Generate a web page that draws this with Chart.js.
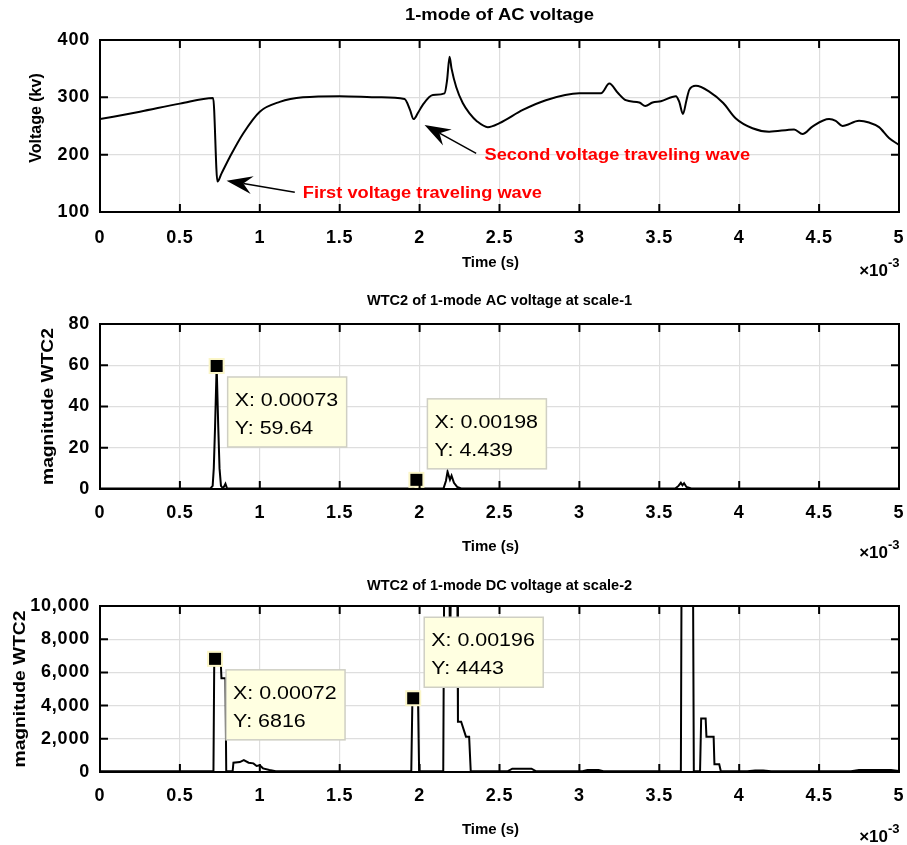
<!DOCTYPE html>
<html>
<head>
<meta charset="utf-8">
<title>Traveling wave detection</title>
<script src="https://cdn.jsdelivr.net/npm/chart.js@4/dist/chart.umd.min.js"></script>
<style>
  html, body { margin: 0; padding: 0; background: #fff; }
  #wrap { position: relative; width: 907px; height: 845px; overflow: hidden; }
  #wrap canvas { position: absolute; left: 0; }
</style>
</head>
<body>
<div id="wrap">
  <canvas id="acChart"    width="907" height="283" style="top:0px"></canvas>
  <canvas id="wtcAcChart" width="907" height="283" style="top:283px"></canvas>
  <canvas id="wtcDcChart" width="907" height="279" style="top:566px"></canvas>
</div>
<script>
/* ── Data (time in ms, axis shows ×10^-3 s) ── */

const acTime = [0, 0.25, 0.5, 0.708, 0.735, 0.76, 0.8125, 0.896, 1.0, 1.125, 1.27, 1.5, 1.75, 1.906, 1.94,
    1.9625, 1.99, 2.02, 2.083, 2.156, 2.172, 2.1875, 2.2, 2.229, 2.27, 2.3125, 2.36, 2.427, 2.5, 2.646,
    2.79, 3.0, 3.135, 3.1875, 3.24, 3.29, 3.375, 3.4125, 3.458, 3.51, 3.604, 3.625, 3.648, 3.67, 3.6875,
    3.729, 3.8125, 3.9, 3.979, 4.083, 4.1875, 4.344, 4.396, 4.458, 4.5625, 4.604, 4.646, 4.75, 4.8125,
    4.875, 4.9375, 5.0];
const acVolt = [262, 275, 289, 299, 153, 167, 196, 237, 275, 292, 300, 302, 300, 297, 278,
    262, 273, 287, 304, 307, 330, 371, 350, 318, 290, 272, 258, 248, 255, 278,
    295, 307, 307, 324, 308, 295, 291, 285, 291, 293, 302, 292, 271, 295, 313,
    320, 310, 290, 263, 246, 240, 244, 236, 249, 262, 259, 250, 259, 256,
    248, 229, 217];

const wtcAcTime = [0, 0.69, 0.705, 0.712, 0.72, 0.73, 0.74, 0.748, 0.757, 0.77, 0.785, 0.795, 0.82,
    1.95, 1.97, 1.98, 1.99, 2.01, 2.15, 2.165, 2.175, 2.19, 2.2, 2.215, 2.235, 2.26,
    3.6, 3.62, 3.635, 3.645, 3.655, 3.67, 3.7, 3.75, 5.0];
const wtcAcMag = [0.2, 0.2, 1.5, 10, 30, 59.64, 30, 10, 1.5, 0.3, 2.5, 0.3, 0.2,
    0.2, 1.5, 4.439, 1.5, 0.2, 0.3, 4, 8.4, 4.5, 6.5, 3, 1, 0.3,
    0.2, 1.5, 3, 1.8, 2.8, 1, 0.3, 0.2, 0.2];

const wtcDcTime = [0, 0.71, 0.715, 0.755, 0.76, 0.785, 0.79, 0.83, 0.835, 0.875, 0.9, 0.93, 0.96, 0.98,
    1.0, 1.02, 1.06, 1.1, 1.2, 1.948, 1.955, 1.99, 1.997, 2.148, 2.155, 2.185, 2.19, 2.2, 2.235, 2.24,
    2.26, 2.29, 2.31, 2.32, 2.55, 2.58, 2.7, 2.73, 3.02, 3.05, 3.12, 3.15, 3.635, 3.64, 3.71, 3.716,
    3.755, 3.762, 3.79, 3.795, 3.84, 3.845, 3.875, 3.885, 4.05, 4.1, 4.15, 4.2, 4.7, 4.75, 4.95, 5.0];
const wtcDcMag = [40, 40, 6816, 6816, 5650, 5650, 40, 40, 560, 600, 720, 560, 520, 360,
    400, 220, 120, 50, 40, 40, 4443, 4443, 40, 40, 14000, 14000, 7000, 14000, 14000, 3030,
    3030, 2130, 2130, 40, 40, 200, 200, 40, 40, 120, 120, 40, 40, 14000, 14000, 40,
    40, 3230, 3230, 2130, 2130, 460, 460, 40, 40, 90, 90, 40, 40, 120, 120, 60];

// data tips (x in ms)
const tipAcX = [0.73, 1.98];
const tipAcY = [59.64, 4.439];
const tipDcX = [0.72, 1.96];
const tipDcY = [6816, 4443];

// arrows / labels on the AC voltage plot, in data units
const arrowTipX  = [0.792, 2.031];
const arrowTipY  = [154.6, 251.7];
const arrowTailX = [1.219, 2.354];
const arrowTailY = [134.4, 202.4];
const noteText = ['First voltage traveling wave', 'Second voltage traveling wave'];
const noteX    = [1.269, 2.406];
const noteY    = [123.9, 190.7];

/* ── Drawing helpers ── */

const FONT = "'Liberation Sans', Arial, Helvetica, sans-serif";

function drawText(ctx, s, x, y, o) {
    ctx.save();
    ctx.letterSpacing = '0px';
    ctx.font = o.font;
    ctx.fillStyle = o.color || '#000';
    ctx.textBaseline = 'alphabetic';
    ctx.translate(x, y);
    if (o.rot) ctx.rotate(o.rot);
    ctx.scale(o.sx || 1, 1);
    const w = ctx.measureText(s).width;
    const dx = o.align === 'center' ? -w / 2 : o.align === 'right' ? -w : 0;
    ctx.fillText(s, dx, 0);
    ctx.restore();
}

function drawArrow(ctx, x0, y0, x1, y1) {
    // tail (x0,y0) -> tip (x1,y1), matlab "vback2" head
    const dx = x0 - x1, dy = y0 - y1, len = Math.hypot(dx, dy);
    const ux = dx / len, uy = dy / len, nx = -uy, ny = ux;
    const L = 26, W = 9, N = 17;
    ctx.beginPath();
    ctx.moveTo(x1 + ux * N, y1 + uy * N);
    ctx.lineTo(x0, y0);
    ctx.strokeStyle = '#000';
    ctx.lineWidth = 1.5;
    ctx.stroke();
    ctx.beginPath();
    ctx.moveTo(x1, y1);
    ctx.lineTo(x1 + ux * L + nx * W, y1 + uy * L + ny * W);
    ctx.lineTo(x1 + ux * N, y1 + uy * N);
    ctx.lineTo(x1 + ux * L - nx * W, y1 + uy * L - ny * W);
    ctx.closePath();
    ctx.fillStyle = '#000';
    ctx.fill();
}

function matlabAxes(cfg) {
    return {
        id: 'matlabAxes',
        beforeDraw(chart) { chart.ctx.letterSpacing = '0.8px'; },
        afterDraw(chart) {
            const { ctx, chartArea: a, scales: { x, y } } = chart;
            ctx.save();
            ctx.letterSpacing = '0px';

            // arrows + notes
            (cfg.arrows || []).forEach(ar => {
                drawArrow(ctx, x.getPixelForValue(ar.x0), y.getPixelForValue(ar.y0),
                               x.getPixelForValue(ar.x1), y.getPixelForValue(ar.y1));
            });
            (cfg.notes || []).forEach(n => {
                drawText(ctx, n.text, x.getPixelForValue(n.x), y.getPixelForValue(n.y),
                    { font: `bold 16px ${FONT}`, color: '#ff0000', sx: 1.14 });
            });

            // data tips
            (cfg.tips || []).forEach(tp => {
                const mx = x.getPixelForValue(tp.x), my = y.getPixelForValue(tp.y);
                const bw = 119, bh = 70, off = 11;
                const bx = mx + off, by = tp.up ? my - off - bh : my + off;
                ctx.fillStyle = '#ffffe1';
                ctx.fillRect(bx, by, bw, bh);
                ctx.strokeStyle = '#cfcfc4';
                ctx.lineWidth = 1.5;
                ctx.strokeRect(bx, by, bw, bh);
                drawText(ctx, 'X: ' + (tp.x / 1000).toFixed(5), bx + 7, by + 29, { font: `18px ${FONT}`, sx: 1.19 });
                drawText(ctx, 'Y: ' + tp.y, bx + 7, by + 57, { font: `18px ${FONT}`, sx: 1.19 });
                ctx.fillStyle = '#fbf6c8';
                ctx.fillRect(mx - 8, my - 8, 16, 16);
                ctx.fillStyle = '#000';
                ctx.fillRect(mx - 6, my - 6, 12, 12);
            });

            // axes box with inward ticks on all four sides
            ctx.strokeStyle = '#000';
            ctx.lineWidth = 2;
            ctx.strokeRect(a.left, a.top, a.right - a.left, a.bottom - a.top);
            ctx.beginPath();
            x.ticks.forEach(t => {
                const px = x.getPixelForValue(t.value);
                ctx.moveTo(px, a.bottom); ctx.lineTo(px, a.bottom - 8);
                ctx.moveTo(px, a.top);    ctx.lineTo(px, a.top + 8);
            });
            y.ticks.forEach(t => {
                const py = y.getPixelForValue(t.value);
                ctx.moveTo(a.left, py);  ctx.lineTo(a.left + 8, py);
                ctx.moveTo(a.right, py); ctx.lineTo(a.right - 8, py);
            });
            ctx.stroke();

            // titles and labels
            const cx = (a.left + a.right) / 2;
            drawText(ctx, cfg.title, cx, a.top - cfg.titleGap,
                { font: `bold ${cfg.titleSize}px ${FONT}`, align: 'center', sx: cfg.titleSx });
            drawText(ctx, 'Time (s)', cx - 9, a.bottom + cfg.xlabelGap, { font: `bold 15px ${FONT}`, align: 'center' });
            drawText(ctx, '\u00d710', a.right - 11, a.bottom + cfg.expGap, { font: `bold 17px ${FONT}`, align: 'right' });
            drawText(ctx, '-3', a.right - 11, a.bottom + cfg.expGap - 9, { font: `bold 13px ${FONT}` });
            drawText(ctx, cfg.ylabel, cfg.ylabelX, (a.top + a.bottom) / 2 + (cfg.ylabelDy || 0),
                { font: `bold 16px ${FONT}`, align: 'center', rot: -Math.PI / 2, sx: cfg.ylabelSx || 1 });
            ctx.restore();
        }
    };
}

function makeChart(id, xs, ys, cfg) {
    const tickFont = { family: FONT, size: 18, weight: 'bold' };
    const gridColor = '#dedede';
    return new Chart(document.getElementById(id), {
        type: 'line',
        data: {
            datasets: [{
                data: xs.map((v, i) => ({ x: v, y: ys[i] })),
                borderColor: '#000',
                borderWidth: 2,
                pointRadius: 0,
                fill: false,
                tension: 0,
                cubicInterpolationMode: cfg.smooth ? 'monotone' : 'default',
            }],
        },
        options: {
            responsive: false,
            animation: false,
            events: [],
            layout: { padding: { top: cfg.padTop, right: 8, left: 0, bottom: 0 } },
            plugins: { legend: { display: false }, tooltip: { enabled: false } },
            scales: {
                x: {
                    type: 'linear',
                    min: 0,
                    max: 5,
                    afterFit: s => { s.height = cfg.xHeight; s.paddingLeft = 0; s.paddingRight = 0; },
                    ticks: {
                        stepSize: 0.5,
                        autoSkip: false,
                        maxRotation: 0,
                        padding: cfg.xTickPad,
                        color: '#000',
                        font: tickFont,
                        callback: v => String(+v.toFixed(2)),
                    },
                    grid: { color: gridColor, lineWidth: 1.2, drawTicks: false },
                    border: { display: false },
                },
                y: {
                    min: cfg.yMin,
                    max: cfg.yMax,
                    afterFit: s => { s.width = 100; s.paddingTop = 0; s.paddingBottom = 0; },
                    ticks: {
                        stepSize: cfg.yStep,
                        padding: 10,
                        color: '#000',
                        font: tickFont,
                        callback: v => v.toLocaleString('en-US'),
                    },
                    grid: { color: gridColor, lineWidth: 1.2, drawTicks: false },
                    border: { display: false },
                },
            },
        },
        plugins: [matlabAxes(cfg)],
    });
}

/* ── Charts ── */

makeChart('acChart', acTime, acVolt, {
    smooth: true,
    padTop: 40, xHeight: 71, xTickPad: 15,
    yMin: 100, yMax: 400, yStep: 100,
    title: '1-mode of AC voltage', titleGap: 20, titleSize: 16, titleSx: 1.15,
    xlabelGap: 55, expGap: 64,
    ylabel: 'Voltage (kv)', ylabelX: 41, ylabelDy: -8,
    arrows: arrowTipX.map((v, i) => ({ x1: v, y1: arrowTipY[i], x0: arrowTailX[i], y0: arrowTailY[i] })),
    notes: noteText.map((t, i) => ({ text: t, x: noteX[i], y: noteY[i] })),
});

makeChart('wtcAcChart', wtcAcTime, wtcAcMag, {
    padTop: 41, xHeight: 77, xTickPad: 13,
    yMin: 0, yMax: 80, yStep: 20,
    title: 'WTC2 of 1-mode AC voltage at scale-1', titleGap: 19, titleSize: 15, titleSx: 0.97,
    xlabelGap: 62, expGap: 69,
    ylabel: 'magnitude WTC2', ylabelX: 53, ylabelSx: 1.2,
    tips: tipAcX.map((v, i) => ({ x: v, y: tipAcY[i], up: i === 1 })),
});

makeChart('wtcDcChart', wtcDcTime, wtcDcMag, {
    padTop: 40, xHeight: 73, xTickPad: 13,
    yMin: 0, yMax: 10000, yStep: 2000,
    title: 'WTC2 of 1-mode DC voltage at scale-2', titleGap: 16, titleSize: 15, titleSx: 0.97,
    xlabelGap: 62, expGap: 70,
    ylabel: 'magnitude WTC2', ylabelX: 25, ylabelSx: 1.2,
    tips: tipDcX.map((v, i) => ({ x: v, y: tipDcY[i], up: i === 1 })),
});
</script>
</body>
</html>
